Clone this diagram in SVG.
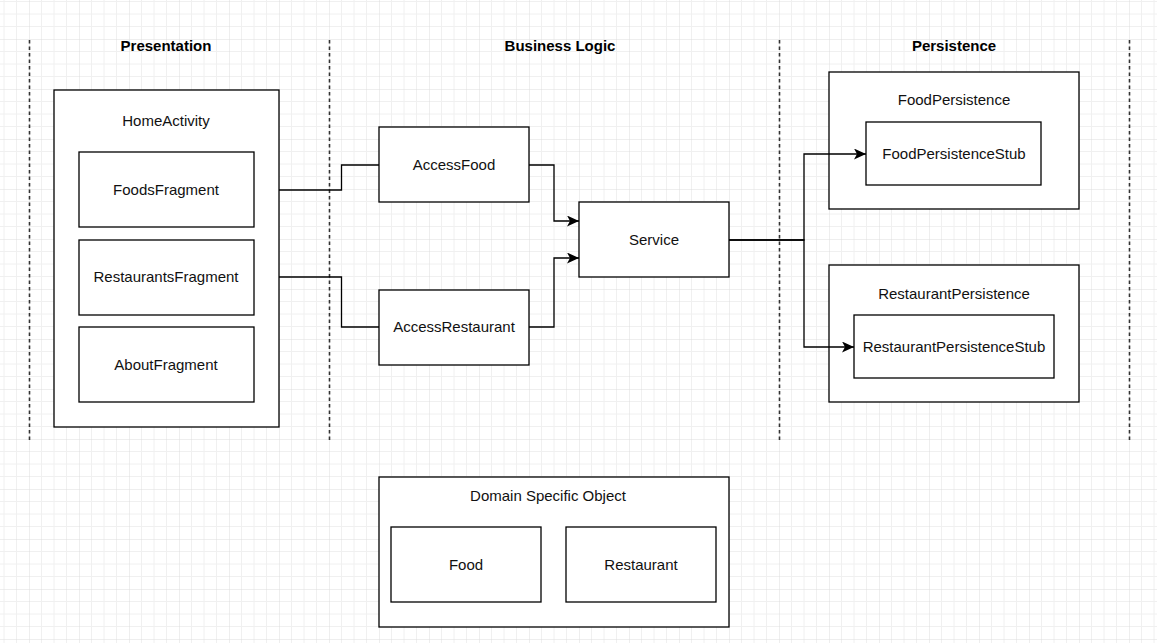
<svg xmlns="http://www.w3.org/2000/svg" width="1157" height="643" viewBox="0 0 1157 643">
<defs>
<pattern id="grid" x="29" y="39" width="50" height="50" patternUnits="userSpaceOnUse">
<path d="M12.5,0V50M25,0V50M37.5,0V50M0,12.5H50M0,25H50M0,37.5H50" fill="none" stroke="#f0f0f0" stroke-width="1"/>
<path d="M0,0V50M0,0H50" fill="none" stroke="#dddddd" stroke-width="1"/>
</pattern>
<marker id="arr" markerUnits="userSpaceOnUse" markerWidth="13" markerHeight="11" refX="12" refY="5.5" orient="auto">
<path d="M0,0 L12,5.5 L0,11 L3,5.5 Z" fill="#000"/>
</marker>
<style>
.box{fill:#fff;stroke:#000;stroke-width:1.3}
.lbl{font-family:"Liberation Sans",Arial,sans-serif;font-size:15px;fill:#111;text-anchor:middle;dominant-baseline:central}
.hdr{font-family:"Liberation Sans",Arial,sans-serif;font-size:15px;font-weight:bold;fill:#000;text-anchor:middle;dominant-baseline:central}
.lane{stroke:#333;stroke-width:1.6;stroke-dasharray:3.5 3;fill:none}
.conn{fill:none;stroke:#000;stroke-width:1.3}
</style>
</defs>
<rect width="1157" height="643" fill="#fff"/>
<rect width="1157" height="643" fill="url(#grid)"/>
<g id="lanes">
<path class="lane" d="M29.5,40V440M329.5,40V440M779.5,40V440M1129.5,40V440"/>
<text class="hdr" x="166" y="45">Presentation</text>
<text class="hdr" x="560" y="45">Business Logic</text>
<text class="hdr" x="954" y="45">Persistence</text>
</g>
<g id="HomeActivity">
<rect class="box" x="54" y="90" width="225" height="337"/>
<text class="lbl" x="166" y="120">HomeActivity</text>
</g>
<g id="FoodsFragment">
<rect class="box" x="79" y="152" width="175" height="75"/>
<text class="lbl" x="166" y="189">FoodsFragment</text>
</g>
<g id="RestaurantsFragment">
<rect class="box" x="79" y="240" width="175" height="75"/>
<text class="lbl" x="166" y="276">RestaurantsFragment</text>
</g>
<g id="AboutFragment">
<rect class="box" x="79" y="327" width="175" height="75"/>
<text class="lbl" x="166" y="364">AboutFragment</text>
</g>
<g id="AccessFood">
<rect class="box" x="379" y="127" width="150" height="75"/>
<text class="lbl" x="454" y="164">AccessFood</text>
</g>
<g id="AccessRestaurant">
<rect class="box" x="379" y="290" width="150" height="75"/>
<text class="lbl" x="454" y="326">AccessRestaurant</text>
</g>
<g id="Service">
<rect class="box" x="579" y="202" width="150" height="75"/>
<text class="lbl" x="654" y="239">Service</text>
</g>
<g id="FoodPersistence">
<rect class="box" x="829" y="72" width="250" height="137"/>
<text class="lbl" x="954" y="99">FoodPersistence</text>
</g>
<g id="FoodPersistenceStub">
<rect class="box" x="866" y="122" width="175" height="63"/>
<text class="lbl" x="954" y="153">FoodPersistenceStub</text>
</g>
<g id="RestaurantPersistence">
<rect class="box" x="829" y="265" width="250" height="137"/>
<text class="lbl" x="954" y="293">RestaurantPersistence</text>
</g>
<g id="RestaurantPersistenceStub">
<rect class="box" x="854" y="315" width="200" height="63"/>
<text class="lbl" x="954" y="346">RestaurantPersistenceStub</text>
</g>
<g id="DomainSpecificObject">
<rect class="box" x="379" y="477" width="350" height="150"/>
<text class="lbl" x="548" y="495">Domain Specific Object</text>
</g>
<g id="Food">
<rect class="box" x="391" y="527" width="150" height="75"/>
<text class="lbl" x="466" y="564">Food</text>
</g>
<g id="Restaurant">
<rect class="box" x="566" y="527" width="150" height="75"/>
<text class="lbl" x="641" y="564">Restaurant</text>
</g>
<g id="connectors">
<path class="conn" d="M279,190H341.5V165H379"/>
<path class="conn" d="M279,277H341.5V327H379"/>
<path class="conn" d="M529,165H554V221H579" marker-end="url(#arr)"/>
<path class="conn" d="M529,327H554V258H579" marker-end="url(#arr)"/>
<path class="conn" d="M729,240H804V154H866" marker-end="url(#arr)"/>
<path class="conn" d="M729,240H804V347H854" marker-end="url(#arr)"/>
</g>
</svg>
